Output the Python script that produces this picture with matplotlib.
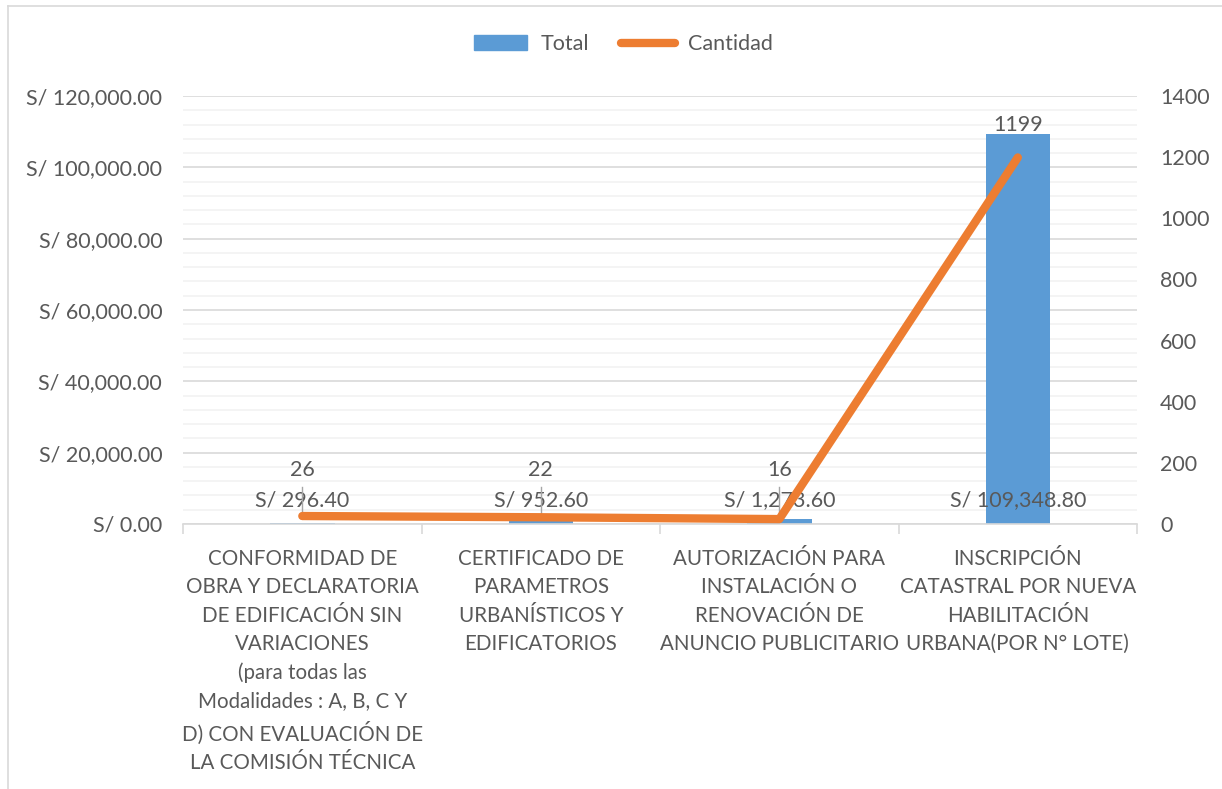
import matplotlib
matplotlib.use("Agg")
import matplotlib.pyplot as plt
from matplotlib.lines import Line2D
from matplotlib.ticker import MultipleLocator, FuncFormatter
import numpy as np

categories = [
    "CONFORMIDAD DE\nOBRA Y DECLARATORIA\nDE EDIFICACIÓN SIN\nVARIACIONES\n(para todas las\nModalidades : A, B, C Y\nD) CON EVALUACIÓN DE\nLA COMISIÓN TÉCNICA",
    "CERTIFICADO DE\nPARAMETROS\nURBANÍSTICOS Y\nEDIFICATORIOS",
    "AUTORIZACIÓN PARA\nINSTALACIÓN O\nRENOVACIÓN DE\nANUNCIO PUBLICITARIO",
    "INSCRIPCIÓN\nCATASTRAL POR NUEVA\nHABILITACIÓN\nURBANA(POR N° LOTE)",
]
total = [296.40, 952.60, 1273.60, 109348.80]
cantidad = [26, 22, 16, 1199]

TEXT = "#595959"
BLUE = "#5b9bd5"
ORANGE = "#ed7d31"
FONT = "Lato"
FS = 15.5
FSX = 14.8

plt.rcParams["font.family"] = [FONT, "DejaVu Sans"]

fig = plt.figure(figsize=(12.22, 7.89), dpi=100)
ax = fig.add_axes([0.1498, 0.3359, 0.9305 - 0.1498, 0.8783 - 0.3359])
ax2 = ax.twinx()

x = np.arange(len(categories))
bars = ax.bar(x, total, width=0.27, color=BLUE, zorder=2, label="Total")
ln, = ax2.plot(x, cantidad, color=ORANGE, lw=6, solid_capstyle="round",
               solid_joinstyle="round", zorder=3, label="Cantidad")

ax.set_xlim(-0.5, len(categories) - 0.5)
ax.set_ylim(0, 120000)
ax2.set_ylim(0, 1400)
ax.yaxis.set_major_locator(MultipleLocator(20000))
ax.yaxis.set_minor_locator(MultipleLocator(4000))
ax2.yaxis.set_major_locator(MultipleLocator(200))
ax.yaxis.set_major_formatter(FuncFormatter(lambda v, p: f"S/ {v:,.2f}"))

ax.grid(axis="y", which="major", color="#d9d9d9", lw=1.2, zorder=0)
ax.grid(axis="y", which="minor", color="#f2f2f2", lw=1.2, zorder=0)
ax.set_axisbelow(True)

for a in (ax, ax2):
    for s in a.spines.values():
        s.set_visible(False)
ax.spines["bottom"].set_visible(True)
ax.spines["bottom"].set_color("#d9d9d9")
ax.spines["bottom"].set_linewidth(1.2)

ax.tick_params(axis="y", which="both", length=0, labelsize=FS, labelcolor=TEXT, pad=15)
ax2.tick_params(axis="y", which="both", length=0, labelsize=FS, labelcolor=TEXT, pad=16.5)
ax.set_xticks(x)
ax.set_xticklabels(categories, fontsize=FSX, color=TEXT, linespacing=1.52, va="top")
ax.tick_params(axis="x", which="major", length=0, pad=18)
ax.set_xticks(np.arange(-0.5, len(categories)), minor=True)
ax.tick_params(axis="x", which="minor", length=7, color="#d9d9d9", width=1.2)

# data labels
for i, (t, c) in enumerate(zip(total, cantidad)):
    ax.text(i, 6700, f"S/ {t:,.2f}", ha="center", va="center", fontsize=FS,
            color=TEXT, zorder=4)
    if c < 200:
        ax.text(i, 15100, f"{c}", ha="center", va="center", fontsize=FS,
                color=TEXT, zorder=4)
        ax2.plot([i, i], [c, 120], color="#a6a6a6", lw=1, zorder=2.5)
    else:
        ax2.annotate(f"{c}", (i, c), xytext=(0, 32), textcoords="offset pixels",
                     ha="center", va="center", fontsize=FS, color=TEXT)

handles = [plt.Rectangle((0, 0), 1, 1, color=BLUE),
           Line2D([], [], color=ORANGE, lw=6, solid_capstyle="round")]
fig.legend(handles, ["Total", "Cantidad"], loc="center", bbox_to_anchor=(0.510, 0.944),
           ncol=2, frameon=False, fontsize=FS, labelcolor=TEXT,
           handlelength=2.5, handleheight=0.7, columnspacing=1.5, handletextpad=0.6)

# outer frame (partially visible)
fig.add_artist(Line2D([8 / 1222, 8 / 1222], [0, 1 - 6 / 789], transform=fig.transFigure,
                      color="#d9d9d9", lw=1.2))
fig.add_artist(Line2D([8 / 1222, 1], [1 - 6 / 789, 1 - 6 / 789], transform=fig.transFigure,
                      color="#d9d9d9", lw=1.2))

fig.savefig("out.png", dpi=100, facecolor="white")
